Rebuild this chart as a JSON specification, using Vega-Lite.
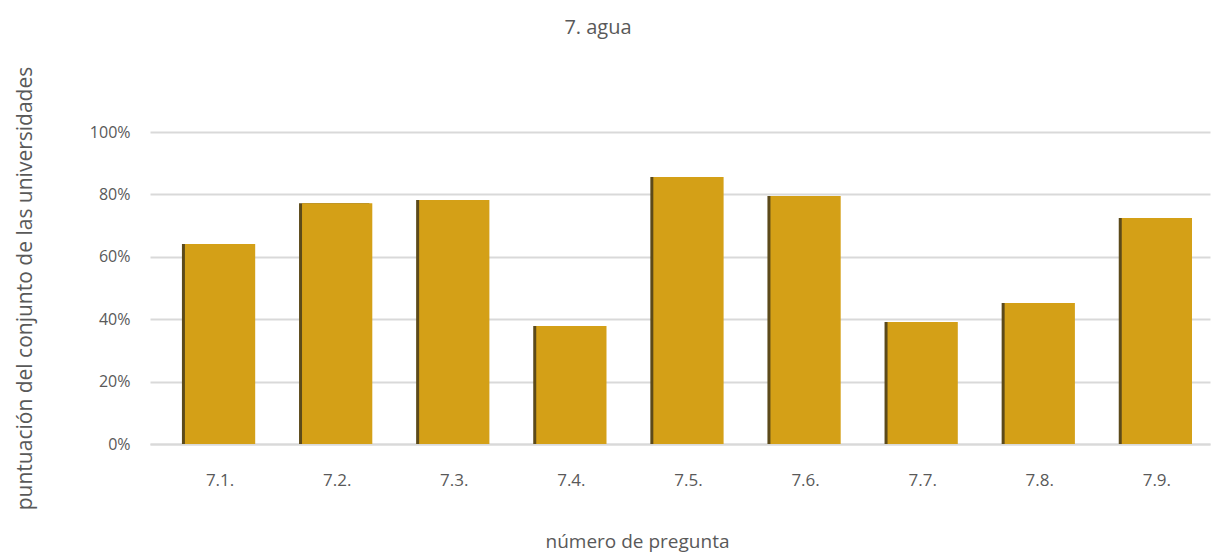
{
  "$schema": "https://vega.github.io/schema/vega-lite/v6.json",
  "autosize": {"type": "none"},
  "width": 1060,
  "height": 312,
  "padding": {"left": 150, "top": 132, "right": 5, "bottom": 112},
  "background": "white",
  "view": {"stroke": null},
  "title": {"text": "7. agua", "font": "Open Sans", "fontSize": 20, "fontWeight": "normal", "color": "#595959", "offset": 28, "anchor": "middle", "dx": -82},
  "data": {"values": [
    {"q": "7.1.", "v": 0.641},
    {"q": "7.2.", "v": 0.772},
    {"q": "7.3.", "v": 0.782},
    {"q": "7.4.", "v": 0.378},
    {"q": "7.5.", "v": 0.856},
    {"q": "7.6.", "v": 0.795},
    {"q": "7.7.", "v": 0.391},
    {"q": "7.8.", "v": 0.452},
    {"q": "7.9.", "v": 0.724}
  ]},
  "encoding": {
    "x": {"field": "q", "type": "nominal", "sort": null,
      "scale": {"paddingInner": 0.4, "paddingOuter": 0.226, "align": 0.66},
      "axis": {"title": "número de pregunta", "labelAngle": 0, "labelFont": "Open Sans", "labelFontSize": 17, "labelColor": "#595959", "labelPadding": 28, "ticks": false, "domainColor": "#d9d9d9", "domainWidth": 2, "titleFont": "Open Sans", "titleFontSize": 19, "titleFontWeight": "normal", "titleColor": "#595959", "titleX": 487, "titleY": 88}},
    "y": {"field": "v", "type": "quantitative", "scale": {"domain": [0, 1]},
      "axis": {"title": "puntuación del conjunto de las universidades", "format": ".0%", "values": [0, 0.2, 0.4, 0.6, 0.8, 1], "labelFont": "Open Sans", "labelFontSize": 16, "labelColor": "#595959", "labelPadding": 20, "labelOverlap": false, "ticks": false, "domain": false, "gridColor": "#d9d9d9", "gridWidth": 2, "titleFont": "Open Sans", "titleFontSize": 21, "titleFontWeight": "normal", "titleColor": "#595959", "titlePadding": 54}}
  },
  "layer": [
    {"mark": {"type": "bar", "color": "#5c4a1a", "xOffset": -3}},
    {"mark": {"type": "bar", "color": "#D4A017"}}
  ]
}
